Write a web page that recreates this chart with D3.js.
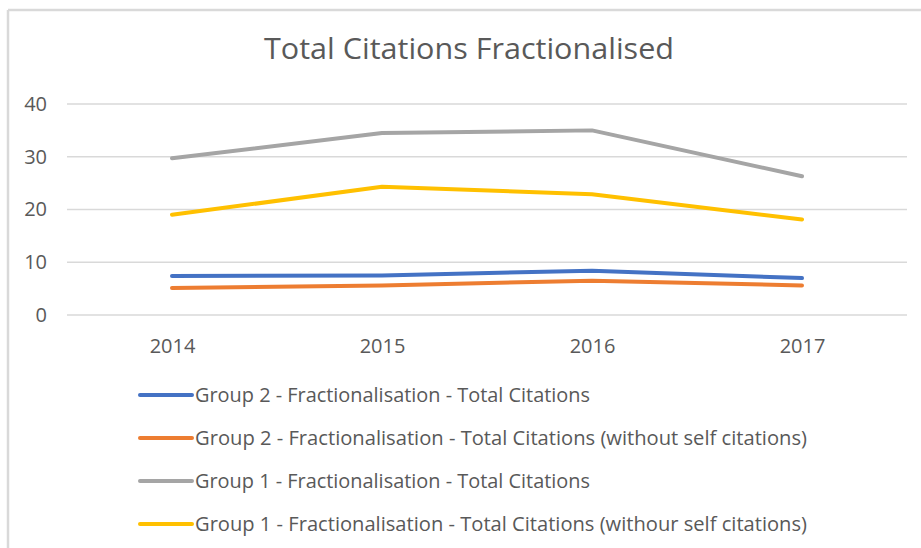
<!DOCTYPE html>
<html>
<head>
<meta charset="utf-8">
<script src="https://cdn.jsdelivr.net/npm/d3@7"></script>
<style>
  html, body { margin: 0; padding: 0; background: #fff; }
  svg { display: block; }
  text { font-family: "Open Sans", sans-serif; fill: #595959; }
</style>
</head>
<body>
<svg id="chart" width="921" height="548"></svg>
<script>
// data
const years = ["2014", "2015", "2016", "2017"];
const g2Total = [7.4, 7.5, 8.4, 7.0];
const g2NoSelf = [5.1, 5.6, 6.5, 5.6];
const g1Total = [29.7, 34.5, 35.0, 26.3];
const g1NoSelf = [19.0, 24.3, 22.9, 18.1];
const yTicks = [0, 10, 20, 30, 40];
const seriesNames = [
  "Group 2 - Fractionalisation - Total Citations",
  "Group 2 - Fractionalisation - Total Citations (without self citations)",
  "Group 1 - Fractionalisation - Total Citations",
  "Group 1 - Fractionalisation - Total Citations (withour self citations)"
];
const seriesColors = ["#4472C4", "#ED7D31", "#A5A5A5", "#FFC000"];

const series = [g2Total, g2NoSelf, g1Total, g1NoSelf].map((vals, i) => ({
  name: seriesNames[i],
  color: seriesColors[i],
  values: vals.map((v, j) => ({ year: years[j], v }))
}));

const svg = d3.select("#chart");

// outer frame (only top + left edges are visible in the crop)
svg.append("line").attr("x1", 8).attr("y1", 10).attr("x2", 921).attr("y2", 10)
  .attr("stroke", "#d9d9d9").attr("stroke-width", 2.5);
svg.append("line").attr("x1", 8).attr("y1", 10).attr("x2", 8).attr("y2", 548)
  .attr("stroke", "#d9d9d9").attr("stroke-width", 2.5);

// title
svg.append("text")
  .attr("x", 469).attr("y", 59)
  .attr("text-anchor", "middle")
  .attr("font-size", 29)
  .attr("textLength", 410)
  .attr("lengthAdjust", "spacingAndGlyphs")
  .text("Total Citations Fractionalised");

const plotLeft = 67, plotRight = 907;
const x = d3.scalePoint().domain(years).range([plotLeft, plotRight]).padding(0.5);
const y = d3.scaleLinear().domain([0, 40]).range([315, 104]);

// gridlines
svg.append("g")
  .selectAll("line")
  .data(yTicks)
  .join("line")
  .attr("x1", plotLeft).attr("x2", plotRight)
  .attr("y1", d => y(d)).attr("y2", d => y(d))
  .attr("stroke", "#d9d9d9")
  .attr("stroke-width", 1.5);

// y axis labels
const yAxis = svg.append("g")
  .attr("transform", "translate(47,0)")
  .call(d3.axisLeft(y).tickValues(yTicks).tickSize(0).tickPadding(0));
yAxis.select(".domain").remove();
yAxis.selectAll("text")
  .attr("font-size", 20)
  .attr("font-family", "Open Sans, sans-serif")
  .attr("fill", "#595959");

// x axis labels
const xAxis = svg.append("g")
  .attr("transform", "translate(0,339)")
  .call(d3.axisBottom(x).tickSize(0).tickPadding(0));
xAxis.select(".domain").remove();
xAxis.selectAll("text")
  .attr("font-size", 20)
  .attr("font-family", "Open Sans, sans-serif")
  .attr("fill", "#595959");

// lines
const line = d3.line().x(d => x(d.year)).y(d => y(d.v));
svg.append("g")
  .selectAll("path")
  .data(series)
  .join("path")
  .attr("d", d => line(d.values))
  .attr("fill", "none")
  .attr("stroke", d => d.color)
  .attr("stroke-width", 4)
  .attr("stroke-linecap", "round")
  .attr("stroke-linejoin", "round");

// legend
const legendLens = [395, 612, 395, 612];
const legend = svg.append("g")
  .selectAll("g")
  .data(series)
  .join("g")
  .attr("transform", (d, i) => `translate(140,${395 + i * 43})`);
legend.append("line")
  .attr("x1", 0).attr("x2", 52)
  .attr("stroke", d => d.color)
  .attr("stroke-width", 4)
  .attr("stroke-linecap", "round");
legend.append("text")
  .attr("x", 55).attr("y", 7)
  .attr("font-size", 20)
  .attr("textLength", (d, i) => legendLens[i])
  .attr("lengthAdjust", "spacingAndGlyphs")
  .text(d => d.name);
</script>
</body>
</html>
